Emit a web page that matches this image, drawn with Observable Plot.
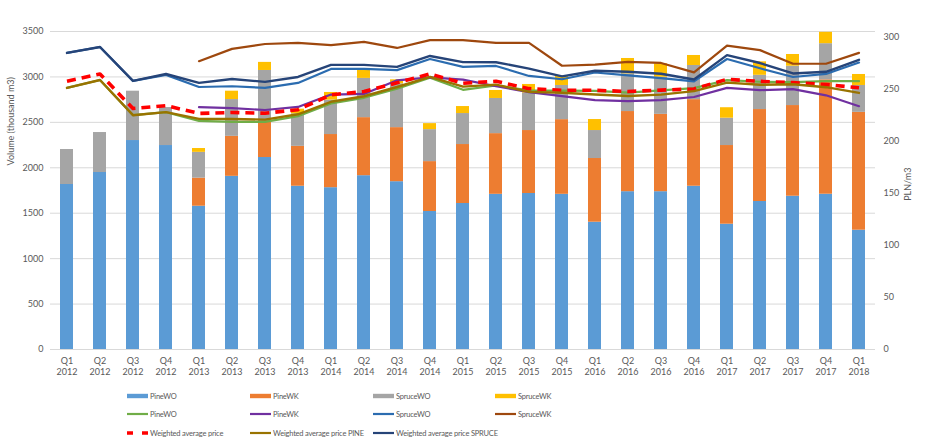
<!DOCTYPE html>
<html><head><meta charset="utf-8">
<script src="https://cdn.jsdelivr.net/npm/d3@7"></script>
<script src="https://cdn.jsdelivr.net/npm/@observablehq/plot@0.6"></script>
<style>
body{margin:0;background:#fff;font-family:Lato,"Open Sans",sans-serif;}
#wrap{position:relative;width:931px;height:447px;overflow:hidden;background:#fff}
#legend{position:absolute;left:0;top:0;width:931px;height:447px}
.item{position:absolute;font-size:7.5px;letter-spacing:-0.2px;color:#595959;display:flex;align-items:center;white-space:nowrap;font-family:Lato,sans-serif}
.item svg{margin-right:2px}
</style></head><body>
<div id="wrap"><div id="chart"></div><div id="legend"></div></div>
<script>
// ---- data ----
const categories = ["Q1 2012","Q2 2012","Q3 2012","Q4 2012","Q1 2013","Q2 2013","Q3 2013","Q4 2013",
  "Q1 2014","Q2 2014","Q3 2014","Q4 2014","Q1 2015","Q2 2015","Q3 2015","Q4 2015",
  "Q1 2016","Q2 2016","Q3 2016","Q4 2016","Q1 2017","Q2 2017","Q3 2017","Q4 2017","Q1 2018"];
const quarterLabels = categories.map(c => c.split(" ")[0]);
const yearLabels = categories.map(c => c.split(" ")[1]);

// volumes (thousand m3), stacked
const volPineWO   = [1816,1948,2300,2245,1577,1906,2113,1797,1781,1913,1847,1519,1607,1708,1717,1708,1401,1737,1737,1797,1379,1629,1687,1709,1313];
const volPineWK   = [0,0,0,0,309,440,387,439,585,639,595,549,649,668,693,822,701,882,851,953,866,1012,998,1259,1297];
const volSpruceWO = [385,440,543,418,284,405,571,358,379,432,482,352,341,387,412,376,308,415,409,376,301,377,433,398,296];
const volSpruceWK = [0,0,0,0,42,92,89,51,84,87,44,66,77,88,95,104,121,169,147,110,115,148,129,125,121];

// prices (PLN/m3)
const pricePineWO   = [251.3,258.9,225.1,228,219.7,218.6,218.7,224.2,236.3,241.8,250.6,261.2,249.5,253.6,249,248.7,248.4,246.8,249,251.1,258.8,257.2,256.8,257.8,257.8];
const pricePineWK   = [NaN,NaN,NaN,NaN,232.8,231.8,230.1,233,244.9,245.5,258.6,261.5,259.3,252.9,247.3,243.5,239.5,238.7,239.5,242.6,251.3,249.2,250.1,244.2,233.7];
const priceSpruceWO = [284.9,290.6,258,263.8,252.2,252.9,251.3,256.1,269.5,269.5,268.4,279.1,271.5,272.4,262.8,259.6,266.1,263.3,260.7,257.5,279.1,270.2,261.8,264.7,275.7];
const priceSpruceWK = [NaN,NaN,NaN,NaN,277,288.8,293.5,294.5,292.4,295.5,289.7,297.2,297.2,294.6,294.6,272.6,273.6,276.4,275.3,266.2,291.9,287.6,274.5,274.5,285];
const priceWeighted = [257.7,264.7,231.5,234.3,226.8,227.7,227,230.4,244.7,247.8,256.2,264.7,255.8,257.7,250.6,249,249,247.9,249.2,250.3,259.6,257.6,256.4,254.6,251.4];
const priceWeightedPine = [251.3,258.9,225.1,228,221.6,221.5,220.8,226,238,243.3,252.2,262,252.5,254.5,247.5,246.6,245,243.6,244.9,248.2,256.4,254.3,254.8,252,246.5];
const priceWeightedSpruce = [284.9,290.6,258,264.7,256.2,259.9,257.1,261.8,273.4,273.4,271.5,282,276.1,276,269.9,262.4,267.8,266.8,264.9,259.4,282.8,275.2,265.2,266.8,278.3];

const leftTicks = [0,500,1000,1500,2000,2500,3000,3500];
const rightTicks = [0,50,100,150,200,250,300];

// ---- build tables ----
const barSeries = [
  {name:"PineWO", values: volPineWO, color:"#5B9BD5"},
  {name:"PineWK", values: volPineWK, color:"#ED7D31"},
  {name:"SpruceWO ", values: volSpruceWO, color:"#A5A5A5"},
  {name:"SpruceWK ", values: volSpruceWK, color:"#FFC000"}
];
const bars = barSeries.flatMap(s => categories.map((c,i) => ({cat:c, series:s.name, value:s.values[i]})));

const lineSeries = [
  {name:"PineWO", values: pricePineWO, color:"#70AD47", width:2.2},
  {name:"PineWK", values: pricePineWK, color:"#7030A0", width:2.2},
  {name:"SpruceWO", values: priceSpruceWO, color:"#2B6CB0", width:2.2},
  {name:"SpruceWK", values: priceSpruceWK, color:"#9E480E", width:2.2},
  {name:"Weighted average price", values: priceWeighted, color:"#FF0000", width:3.6, dash:"9,6"},
  {name:"Weighted average price PINE", values: priceWeightedPine, color:"#997300", width:2.4},
  {name:"Weighted average price SPRUCE", values: priceWeightedSpruce, color:"#264478", width:2.4}
];

const rightMax = 305.5, leftMax = 3500;
const k = leftMax / rightMax; // secondary axis mapping

const lineMarks = lineSeries.map(s => Plot.lineY(categories.map((c,i)=>({cat:c, v:s.values[i]})), {
  x: "cat", y: d => d.v * k, stroke: s.color, strokeWidth: s.width,
  strokeDasharray: s.dash, strokeLinejoin:"round", strokeLinecap: s.dash ? "butt" : "round"
}));

const font = "Lato, 'Open Sans', sans-serif";
const chart = Plot.plot({
  width: 931, height: 380,
  marginLeft: 50, marginRight: 56, marginTop: 31, marginBottom: 31,
  style: {fontFamily: font, fontSize: "9px", color: "#595959", background: "#fff"},
  x: {type: "band", domain: categories, paddingInner: 0.6, paddingOuter: 0.3, axis: null},
  y: {domain: [0, leftMax], axis: null},
  color: {domain: barSeries.map(s=>s.name), range: barSeries.map(s=>s.color)},
  marks: [
    Plot.ruleY(leftTicks, {stroke: "#D9D9D9", strokeWidth: 1}),
    Plot.barY(bars, {x: "cat", y: "value", fill: "series"}),
    ...lineMarks,
    Plot.axisY(leftTicks, {anchor: "left", tickSize: 0, tickPadding: 7, label: null, fill: "#595959",
      tickFormat: d => String(d)}),
    Plot.axisY(rightTicks.map(v => v * k), {anchor: "right", tickSize: 0, tickPadding: 8, label: null,
      tickFormat: d => String(Math.round(d / k)), fill: "#595959"}),
    Plot.axisX({tickSize: 0, tickPadding: 8, label: null, tickFormat: (d) => quarterLabels[categories.indexOf(d)], fill:"#595959"}),
    Plot.axisX({tickSize: 0, tickPadding: 19, label: null, tickFormat: (d) => yearLabels[categories.indexOf(d)], fill:"#595959"}),
    Plot.text(["Volume (thousand m3)"], {frameAnchor: "left", text: d => d, rotate: -90, dx: -39, dy: -25, fill: "#595959", fontSize: 9}),
    Plot.text(["PLN/m3"], {frameAnchor: "right", text: d => d, rotate: -90, dx: 33, dy: -23, fill: "#595959", fontSize: 9})
  ]
});
document.getElementById("chart").appendChild(chart);

// ---- legend ----
const legendItems = [
  ...barSeries.map(s => ({label: s.name.trim(), type: "bar", color: s.color})),
  ...lineSeries.map(s => ({label: s.name, type: s.dash ? "dash" : "line", color: s.color}))
];
const colX = [127, 250, 373, 495];
const rowY = [396, 414, 433];
const legend = document.getElementById("legend");
legendItems.forEach((it, i) => {
  const row = Math.floor(i / 4), col = i % 4;
  const div = document.createElement("div");
  div.className = "item";
  div.style.left = colX[col] + "px";
  div.style.top = (rowY[row] - 6) + "px";
  div.style.height = "12px";
  let sw;
  if (it.type === "bar") sw = `<svg width="21" height="12"><rect x="0" y="3.8" width="21" height="4.4" fill="${it.color}"/></svg>`;
  else if (it.type === "line") sw = `<svg width="21" height="12"><line x1="0" x2="21" y1="6" y2="6" stroke="${it.color}" stroke-width="2.2"/></svg>`;
  else sw = `<svg width="21" height="12"><line x1="0" x2="21" y1="6" y2="6" stroke="${it.color}" stroke-width="3.4" stroke-dasharray="6,9"/></svg>`;
  div.innerHTML = sw + `<span>${it.label}</span>`;
  legend.appendChild(div);
});
</script>
</body></html>
